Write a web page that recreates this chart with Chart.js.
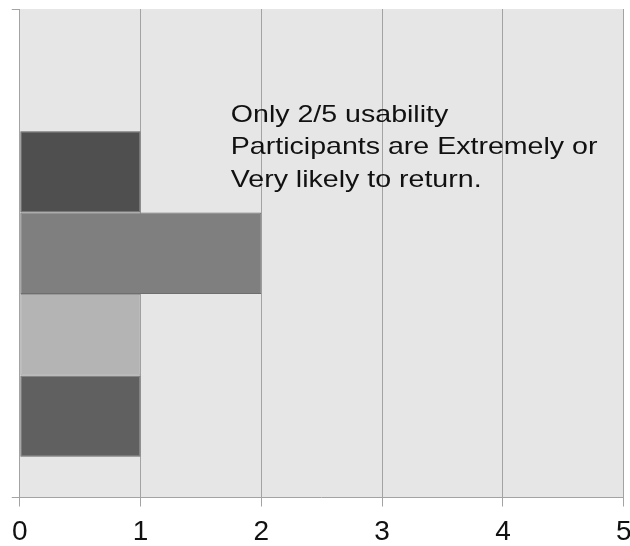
<!DOCTYPE html>
<html>
<head>
<meta charset="utf-8">
<style>
  html, body { margin: 0; padding: 0; background: #ffffff; }
  #wrap { width: 630px; height: 546px; }
</style>
<script src="https://cdn.jsdelivr.net/npm/chart.js@4.4.1/dist/chart.umd.min.js"></script>
</head>
<body>
<div id="wrap"><canvas id="c" width="630" height="546"></canvas></div>
<script>
// Likelihood of returning, usability participants (counts out of 5).
// Series listed in survey order; the first series sits at the bottom.
const categories = [''];
const seriesNames = ['Extremely likely', 'Very likely', 'Somewhat likely', 'Not very likely', 'Not at all likely'];
const seriesValues = [1, 1, 2, 1, 0];
const seriesColors = ['#606060', '#b4b4b4', '#7f7f7f', '#4f4f4f', '#3a3a3a'];
const borderColors = ['#6a6a6a', '#9a9a9a', '#6e6e6e', '#5e5e5e', '#3a3a3a'];
const xTicks = [0, 1, 2, 3, 4, 5];
const noteLines = ['Only 2/5 usability', 'Participants are Extremely or', 'Very likely to return.'];

const FONT = '"Liberation Sans", Arial, Helvetica, sans-serif';

// Top-to-bottom drawing order for a horizontal grouped bar
const order = seriesNames.map((_, i) => i).reverse();
const datasets = order.map(i => ({
  label: seriesNames[i],
  data: [seriesValues[i]],
  backgroundColor: seriesColors[i],
  borderColor: borderColors[i],
  borderWidth: seriesValues[i] > 0 ? 1 : 0,
  borderSkipped: false,
  categoryPercentage: 5 / 6,
  barPercentage: 1
}));

const plotBackground = {
  id: 'plotBackground',
  beforeDraw(chart) {
    const { ctx, chartArea: a } = chart;
    ctx.save();
    ctx.fillStyle = '#e6e6e6';
    ctx.fillRect(a.left, a.top, a.right - a.left, a.bottom - a.top);
    ctx.restore();
  }
};

// Wide annotation text inside the plot
const noteText = {
  id: 'noteText',
  afterDatasetsDraw(chart) {
    const { ctx, chartArea: a } = chart;
    const x = a.left + 211;
    const y0 = a.top + 112.5;
    ctx.save();
    ctx.fillStyle = '#111111';
    ctx.font = '24px ' + FONT;
    ctx.textAlign = 'left';
    ctx.textBaseline = 'alphabetic';
    ctx.translate(x, 0);
    ctx.scale(1.19, 1);
    noteLines.forEach((t, i) => ctx.fillText(t, 0, y0 + i * 32.5));
    ctx.restore();
  }
};

new Chart(document.getElementById('c'), {
  type: 'bar',
  data: { labels: categories, datasets },
  options: {
    indexAxis: 'y',
    responsive: false,
    animation: false,
    devicePixelRatio: 1,
    layout: { padding: { left: 11, top: 9, right: 0, bottom: -12.5 } },
    plugins: {
      legend: { display: false },
      tooltip: { enabled: false }
    },
    scales: {
      x: {
        type: 'linear',
        min: 0,
        max: 5,
        afterBuildTicks(scale) {
          scale.ticks = xTicks.map(v => ({ value: v }));
        },
        afterFit(scale) {
          scale.paddingRight = 6.3;
        },
        ticks: {
          stepSize: 1,
          color: '#111111',
          padding: 12,
          font: { family: FONT, size: 28, lineHeight: 1.0 }
        },
        grid: {
          color: '#a3a3a3',
          lineWidth: 1,
          tickLength: 9,
          drawTicks: true
        },
        border: { display: true, color: '#a3a3a3', width: 1 }
      },
      y: {
        type: 'category',
        offset: true,
        ticks: { display: false },
        grid: {
          offset: true,
          drawOnChartArea: false,
          drawTicks: true,
          tickLength: 8,
          color: '#a3a3a3'
        },
        border: { display: true, color: '#a3a3a3', width: 1 }
      }
    }
  },
  plugins: [plotBackground, noteText]
});
</script>
</body>
</html>
